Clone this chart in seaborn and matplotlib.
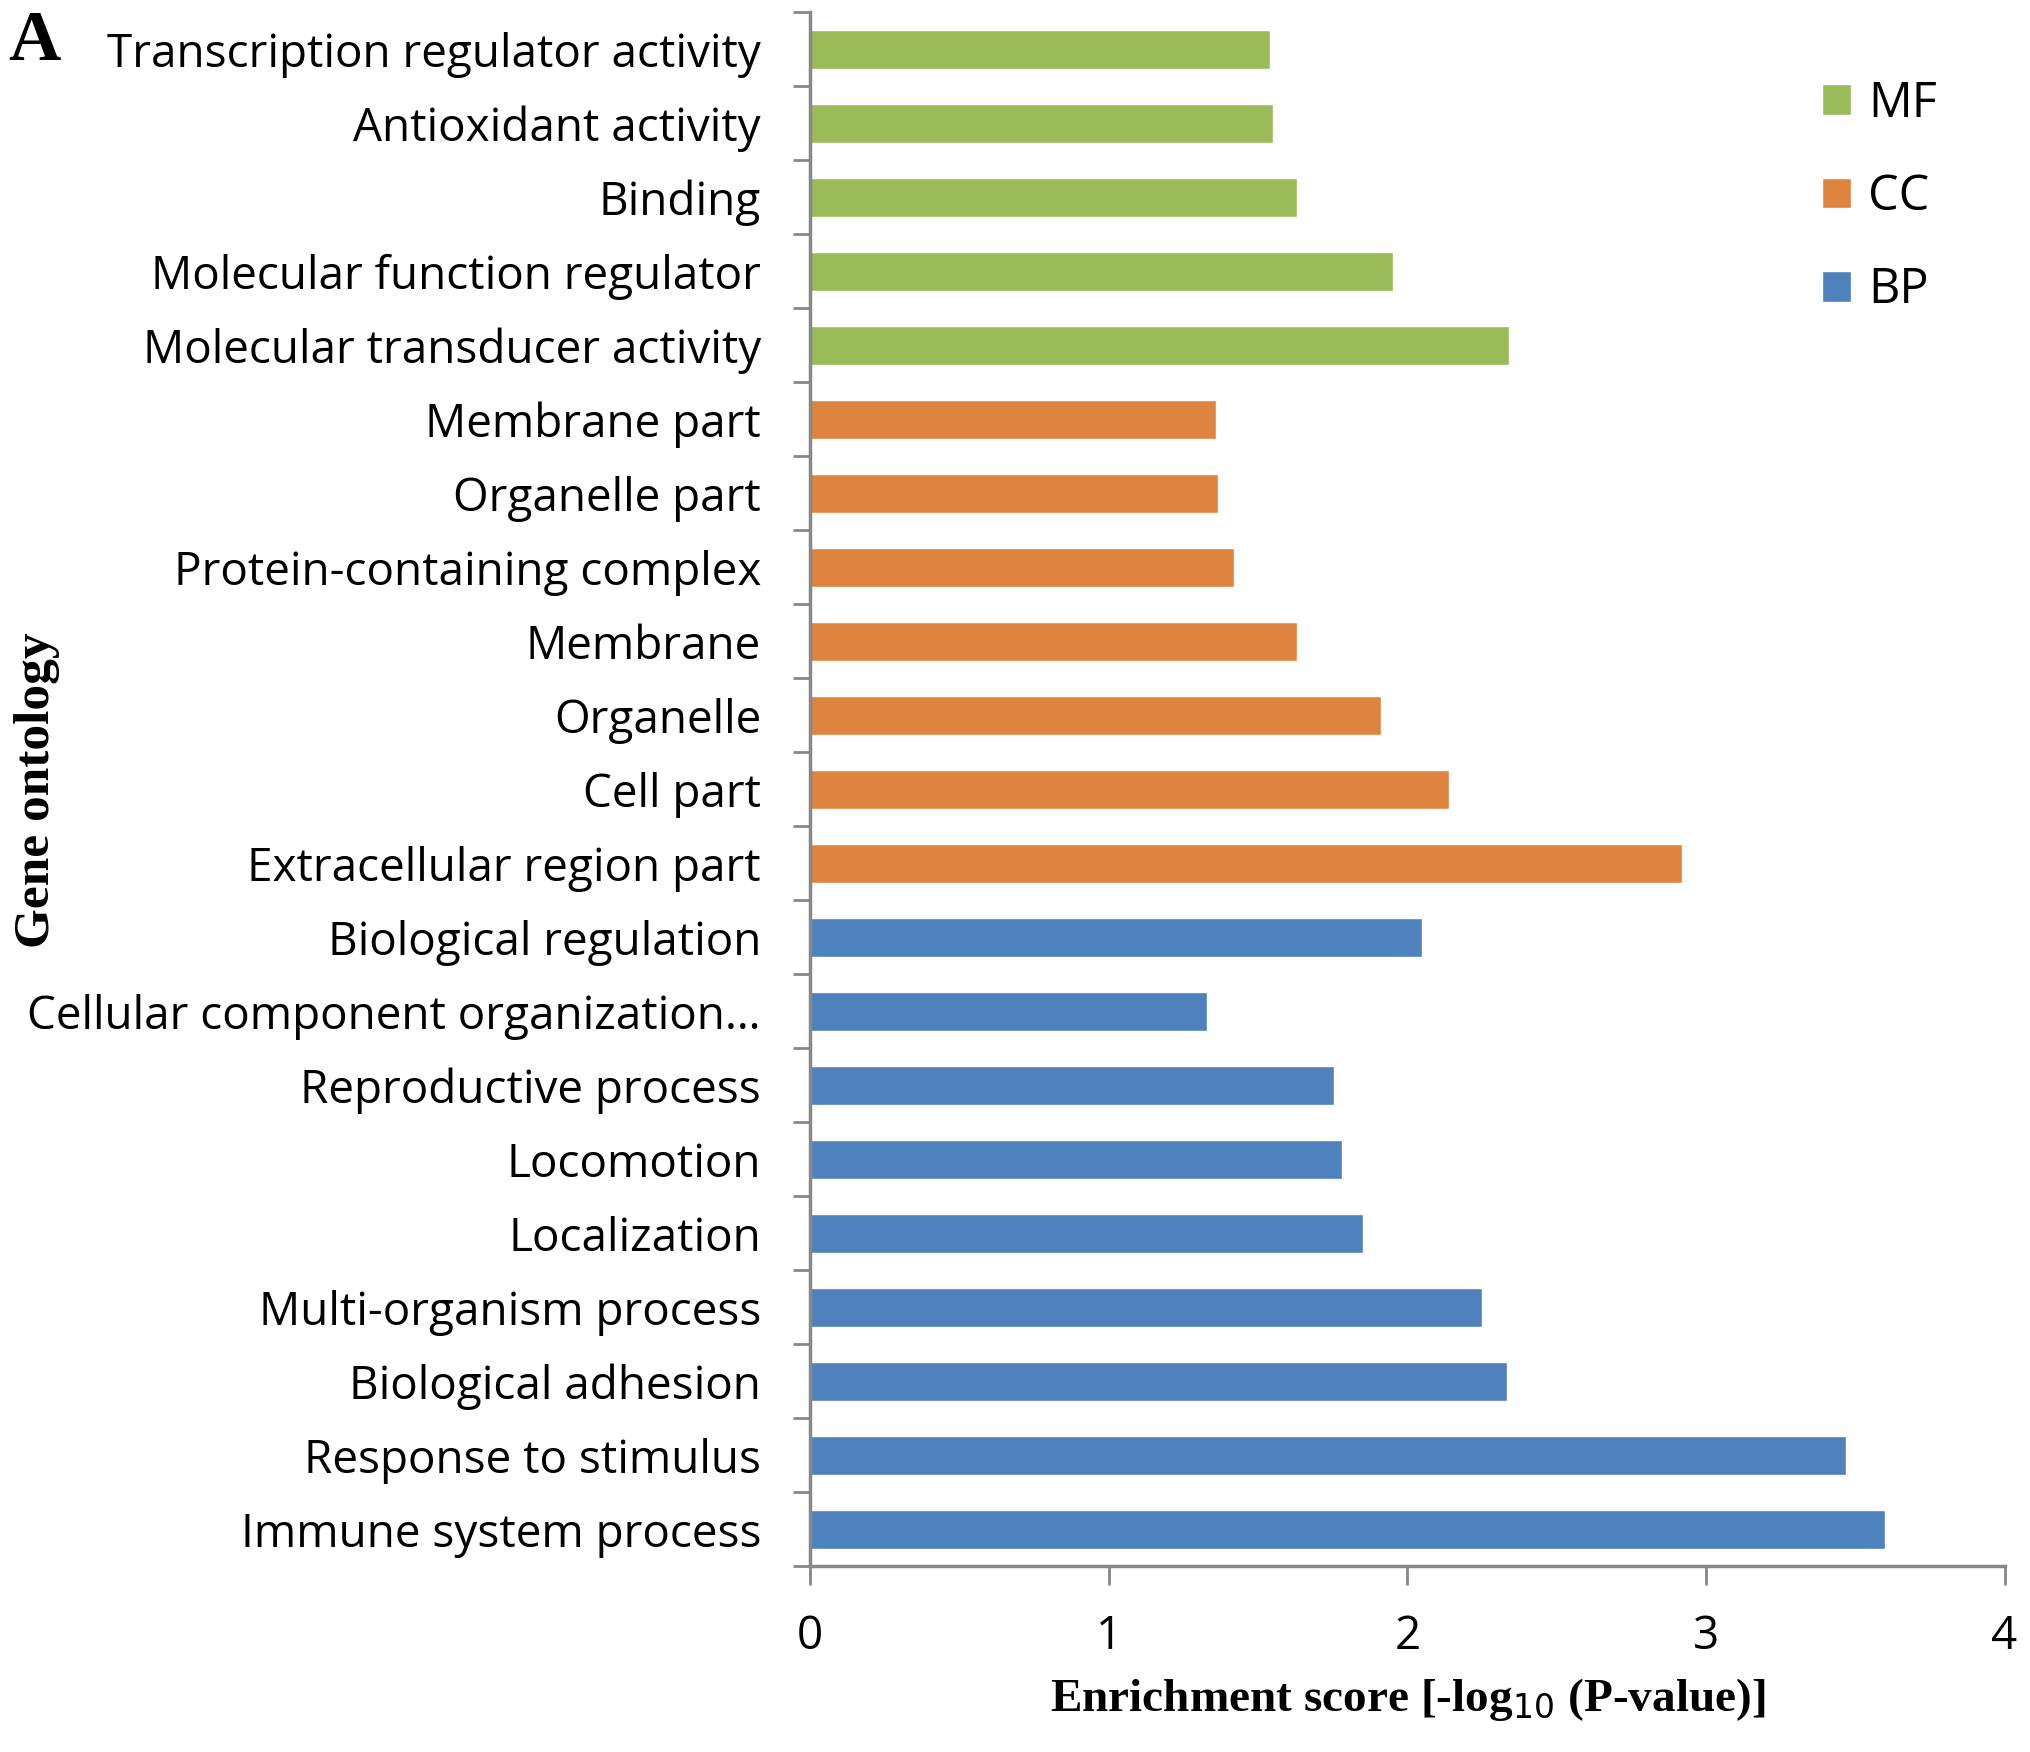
import matplotlib
matplotlib.use("Agg")
import matplotlib.pyplot as plt
import seaborn as sns
import pandas as pd
import numpy as np

# categories, top to bottom
terms = [
    "Transcription regulator activity", "Antioxidant activity", "Binding",
    "Molecular function regulator", "Molecular transducer activity",
    "Membrane part", "Organelle part", "Protein-containing complex",
    "Membrane", "Organelle", "Cell part", "Extracellular region part",
    "Biological regulation", "Cellular component organization…",
    "Reproductive process", "Locomotion", "Localization",
    "Multi-organism process", "Biological adhesion",
    "Response to stimulus", "Immune system process",
]
groups = ["MF"] * 5 + ["CC"] * 7 + ["BP"] * 9
scores = [
    1.54, 1.55, 1.63, 1.95, 2.34,
    1.36, 1.365, 1.42, 1.63, 1.91, 2.14, 2.92,
    2.05, 1.33, 1.755, 1.78, 1.85, 2.25, 2.335, 3.47, 3.60,
]
group_colors = {"MF": "#9BBB59", "CC": "#DF843F", "BP": "#4F81BD"}

df = pd.DataFrame({"term": terms, "group": groups, "score": scores})

sns.set_style("white")
plt.rcParams["font.family"] = ["Open Sans", "DejaVu Sans"]
plt.rcParams["text.color"] = "black"
plt.rcParams["xtick.color"] = "black"
plt.rcParams["ytick.color"] = "black"

fig = plt.figure(figsize=(20.31, 17.52), dpi=100)
ax = fig.add_axes([0.399, 0.106, 0.588, 0.887])

sns.barplot(data=df, x="score", y="term", hue="group", order=terms,
            hue_order=["MF", "CC", "BP"], palette=group_colors, saturation=1,
            dodge=False, width=0.53, orient="h", ax=ax, legend=True)

ax.set_xlim(0, 4)
ax.set_ylim(len(terms) - 0.5, -0.5)
ax.set_xticks([0, 1, 2, 3, 4])
ax.set_xticklabels(["0", "1", "2", "3", "4"], fontsize=33)
ax.tick_params(axis="x", bottom=True, direction="out", length=14, width=2,
               color="#888888", labelcolor="black", pad=20)
ax.tick_params(axis="y", which="major", left=False, pad=32, labelsize=33,
               labelcolor="black")
ax.set_yticks(np.arange(-0.5, len(terms), 1), minor=True)
ax.tick_params(axis="y", which="minor", left=True, direction="out", length=12,
               width=2, color="#888888")

for s in ["top", "right"]:
    ax.spines[s].set_visible(False)
for s in ["left", "bottom"]:
    ax.spines[s].set_color("#888888")
    ax.spines[s].set_linewidth(2.5)

ax.set_xlabel("Enrichment score [-log$_{10}$ (P-value)]", family="Liberation Serif",
              fontweight="bold", fontsize=34, labelpad=12, color="black")
ax.set_ylabel("")
fig.text(0.018, 0.549, "Gene ontology", rotation=90, family="Liberation Serif",
         fontweight="bold", fontsize=37, ha="center", va="center")
fig.text(0.004, 0.976, "A", family="Liberation Serif", fontweight="bold",
         fontsize=52, ha="left", va="center")

leg = ax.legend(loc="upper right", bbox_to_anchor=(0.98, 0.985), frameon=False,
                fontsize=35, handlelength=0.6, handleheight=0.6,
                handletextpad=0.35, labelspacing=0.9)

fig.savefig("out.png", dpi=100)
